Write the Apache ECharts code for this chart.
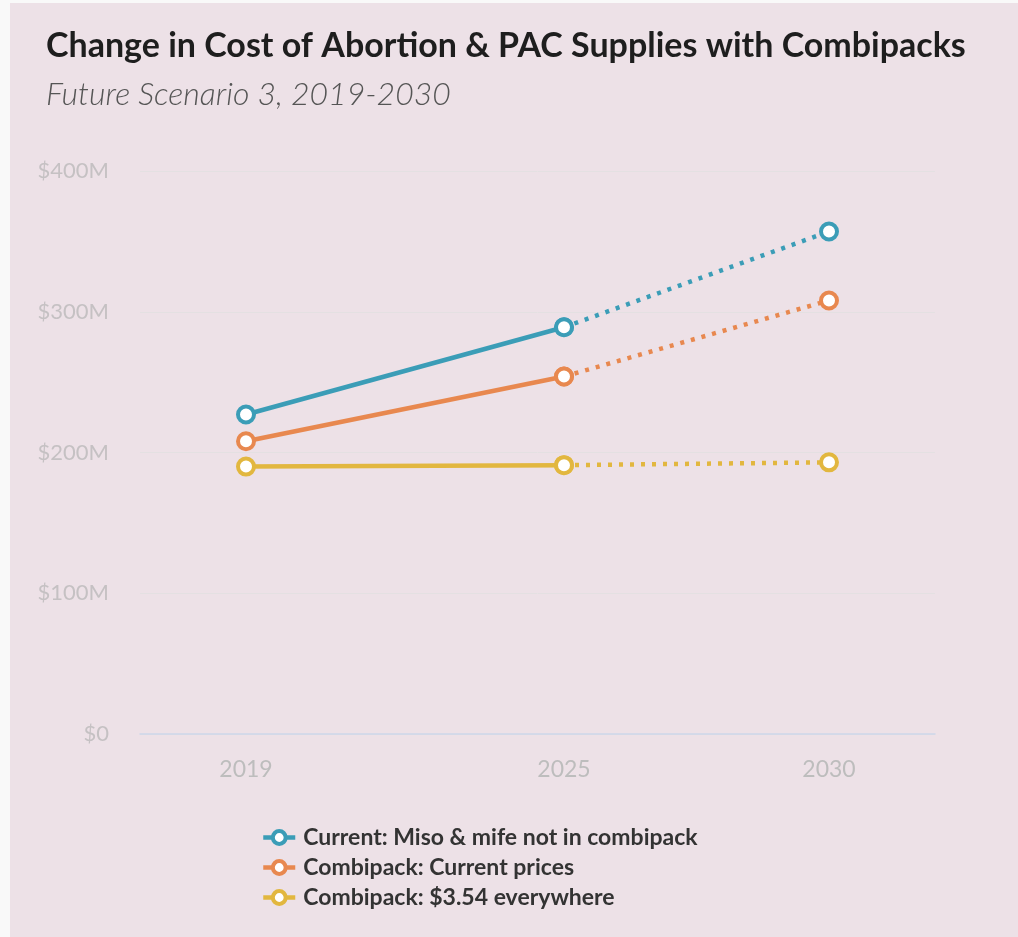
<!DOCTYPE html>
<html>
<head>
<meta charset="utf-8">
<script src="https://cdn.jsdelivr.net/npm/echarts@6/dist/echarts.min.js"></script>
<style>
  html, body { margin: 0; padding: 0; background: #f9f9f9; }
  #chart { position: absolute; left: 10px; top: 3px; width: 1008px; height: 934px; background: #ede1e7; }
</style>
</head>
<body>
<div id="chart"></div>
<script>
// Cost projections in $M
const years = [2019, 2025, 2030];
const yTicks = [0, 100, 200, 300, 400];
const seriesNames = [
  'Current: Miso & mife not in combipack',
  'Combipack: Current prices',
  'Combipack: $3.54 everywhere'
];
const currentMisoMife = [227, 289, 357];
const combipackCurrent = [208, 254, 308];
const combipackFlat = [190, 191, 193];
const colors = ['#3b9db7', '#e8884f', '#e2b73f'];

const values = [currentMisoMife, combipackCurrent, combipackFlat];

// each line is solid through 2025 and dotted for the projection to 2030
const series = [];
values.forEach((vals, i) => {
  const pts = years.map((y, j) => [y, vals[j]]);
  const common = {
    name: seriesNames[i],
    type: 'line',
    symbol: 'circle',
    symbolSize: 16,
    color: colors[i],
    itemStyle: { color: '#ffffff', borderColor: colors[i], borderWidth: 4 },
    emphasis: { disabled: true },
    z: 3 - i
  };
  series.push(Object.assign({}, common, {
    data: pts.slice(0, 2),
    lineStyle: { color: colors[i], width: 4.5 }
  }));
  series.push(Object.assign({}, common, {
    data: pts.slice(1),
    lineStyle: { color: colors[i], width: 4.5, type: [4, 7], cap: 'butt' }
  }));
});

const chart = echarts.init(document.getElementById('chart'), null, { renderer: 'canvas' });
chart.setOption({
  animation: false,
  title: [{
    text: 'Change in Cost of Abortion & PAC Supplies with Combipacks',
    left: 31, top: 21,
    textStyle: { fontFamily: 'Lato', fontWeight: 'bold', fontSize: 34, color: '#1e1e1e' }
  }, {
    text: 'Future Scenario 3, 2019-2030',
    left: 31, top: 71,
    textStyle: { fontFamily: 'Lato', fontStyle: 'italic', fontWeight: 300, fontSize: 32, color: '#555555' }
  }],
  legend: {
    orient: 'vertical',
    left: 246, top: 818,
    itemWidth: 32, itemHeight: 16, itemGap: 7,
    textStyle: { fontFamily: 'Lato', fontWeight: 'bold', fontSize: 23, color: '#333333', padding: [0, 0, 0, 3] },
    data: seriesNames.map((n, i) => ({
      name: n,
      itemStyle: { color: '#ffffff', borderColor: colors[i], borderWidth: 4 },
      lineStyle: { color: colors[i], width: 4.5, type: 'solid' }
    }))
  },
  grid: { left: 130, right: 83, top: 168, bottom: 203 },
  xAxis: {
    type: 'value',
    min: 2017, max: 2032, interval: 1,
    axisLine: { show: true, lineStyle: { color: '#cdd6ea', width: 1.5 } },
    axisTick: { show: false },
    splitLine: { show: false },
    axisLabel: {
      margin: 24,
      fontFamily: 'Lato', fontSize: 23, color: '#bdbdbd',
      formatter: v => years.includes(v) ? String(v) : ''
    }
  },
  yAxis: {
    type: 'value',
    min: yTicks[0], max: yTicks[yTicks.length - 1], interval: 100,
    axisLine: { show: false },
    axisTick: { show: false },
    splitLine: { lineStyle: { color: '#e4e0e2', width: 1 } },
    axisLabel: {
      margin: 31,
      fontFamily: 'Lato', fontSize: 22, color: '#c5c1c3',
      formatter: v => v === 0 ? '$0' : '$' + v + 'M'
    }
  },
  series: series
});
</script>
</body>
</html>
